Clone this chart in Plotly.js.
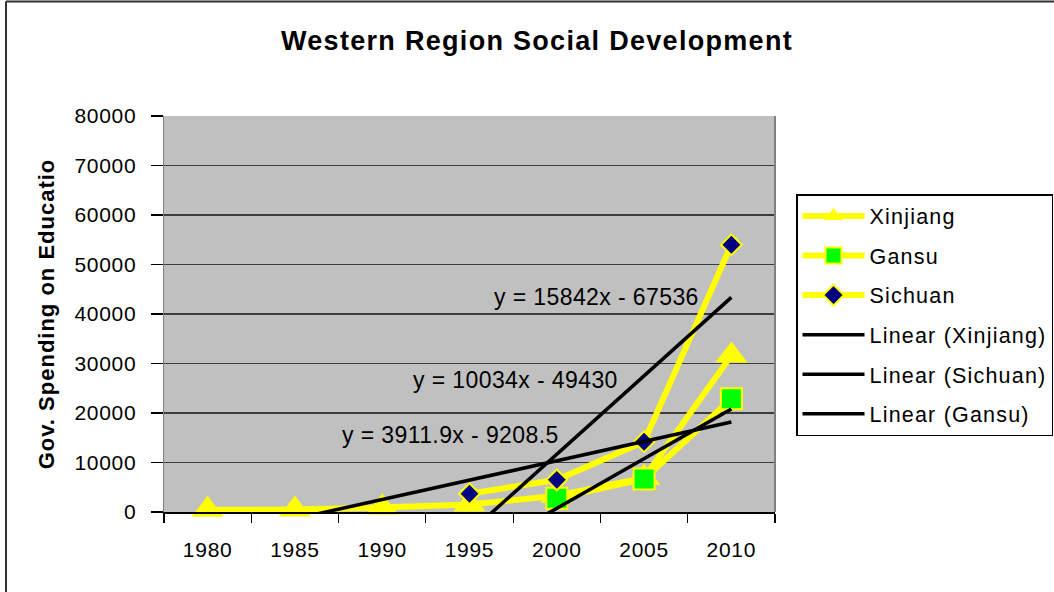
<!DOCTYPE html>
<html>
<head>
<meta charset="utf-8">
<script src="https://cdn.plot.ly/plotly-3.0.1.min.js"></script>
<style>
  html, body { margin: 0; padding: 0; background: #ffffff; }
  #chart { width: 1054px; height: 592px; }
  .gtitle { letter-spacing: 1.3px; }
  .legendtext { letter-spacing: 1.2px; }
  .ytick text, .xtick text { letter-spacing: 0.7px; }
  .ytitle { letter-spacing: 1px; }
  .annotation-text { letter-spacing: 0.4px; }
</style>
</head>
<body>
<div id="chart"></div>
<script>
// ---- data ----
const years = ['1980', '1985', '1990', '1995', '2000', '2005', '2010'];
const xinjiang = [450, 500, 900, 1500, 3300, 6900, 31600];
const gansu    = [null, null, null, null, 2800, 6650, 22870];
const sichuan  = [null, null, null, 3700, 6500, 14200, 54000];

// linear trendline coefficients shown on the chart (x = category index 1..7)
const trendXinjiang = [3911.9, -9208.5];
const trendSichuan  = [15842, -67536];
const trendGansu    = [10034, -49430];

const trendLabels = ['y = 15842x - 67536', 'y = 10034x - 49430', 'y = 3911.9x - 9208.5'];

function trendValues(coef) {
  return years.map((_, i) => coef[0] * (i + 1) + coef[1]);
}

const FONT = 'Liberation Sans, Arial, sans-serif';
const YEL = '#ffff00';

const traces = [
  {
    name: 'Xinjiang', x: years, y: xinjiang, type: 'scatter', mode: 'lines+markers',
    line: {color: YEL, width: 6},
    marker: {symbol: 'triangle-up', size: 28, color: YEL, line: {width: 0}},
    cliponaxis: false, legendgroup: 'a'
  },
  {
    name: 'Gansu', x: years, y: gansu, type: 'scatter', mode: 'lines+markers',
    line: {color: YEL, width: 6},
    marker: {symbol: 'square', size: 21, color: '#00ff00', line: {color: YEL, width: 2}},
    cliponaxis: false, legendgroup: 'b'
  },
  {
    name: 'Sichuan', x: years, y: sichuan, type: 'scatter', mode: 'lines+markers',
    line: {color: YEL, width: 6},
    marker: {symbol: 'diamond', size: 16, color: '#000080', line: {color: YEL, width: 2}},
    cliponaxis: false, legendgroup: 'c'
  },
  {
    name: 'Linear (Xinjiang)', x: years, y: trendValues(trendXinjiang), type: 'scatter', mode: 'lines',
    line: {color: '#000000', width: 3.5}, legendgroup: 'd'
  },
  {
    name: 'Linear (Sichuan)', x: years, y: trendValues(trendSichuan), type: 'scatter', mode: 'lines',
    line: {color: '#000000', width: 3.5}, legendgroup: 'e'
  },
  {
    name: 'Linear (Gansu)', x: years, y: trendValues(trendGansu), type: 'scatter', mode: 'lines',
    line: {color: '#000000', width: 3.5}, legendgroup: 'f'
  }
];

const L = 164, R = 775, T = 116, B = 512, W = 1054, H = 592;
const pw = R - L, ph = B - T;
const px = v => (v - L) / pw;
const py = v => (B - v) / ph;

const layout = {
  width: W, height: H,
  paper_bgcolor: '#ffffff',
  plot_bgcolor: '#c0c0c0',
  margin: {l: L, r: W - R, t: T, b: H - B, pad: 0, autoexpand: false},
  font: {family: FONT, color: '#000000', size: 20},
  title: {
    text: 'Western Region Social Development',
    font: {family: FONT, size: 27, color: '#000000', weight: 'bold'},
    x: 537 / W, xref: 'container', xanchor: 'center',
    y: 1 - 41 / H, yref: 'container', yanchor: 'middle'
  },
  xaxis: {
    type: 'category',
    range: [-0.5, 6.5],
    tickson: 'boundaries',
    ticks: 'outside', ticklen: 9, tickwidth: 1.2, tickcolor: '#000000',
    showline: true, linecolor: '#000000', linewidth: 1.5,
    showgrid: false, zeroline: false,
    tickfont: {family: FONT, size: 21, color: '#000000'},
    ticklabelstandoff: 18,
    fixedrange: true
  },
  yaxis: {
    range: [0, 80000],
    dtick: 10000, tick0: 0,
    tickformat: 'd',
    ticks: 'outside', ticklen: 12, tickwidth: 1.2, tickcolor: '#000000',
    showline: true, linecolor: '#808080', linewidth: 1.5,
    showgrid: true, gridcolor: '#3c3c3c', gridwidth: 1.2,
    zeroline: false,
    tickfont: {family: FONT, size: 21, color: '#000000'},
    ticklabelstandoff: 10,
    title: {
      text: 'Gov. Spending on Educatio',
      font: {family: FONT, size: 22, color: '#000000', weight: 'bold'},
      standoff: 13
    },
    fixedrange: true
  },
  legend: {
    x: px(796), y: py(194), xanchor: 'left', yanchor: 'top',
    bgcolor: '#ffffff', bordercolor: '#000000', borderwidth: 1.5,
    font: {family: FONT, size: 21.5, color: '#000000'},
    tracegroupgap: 8.6,
    traceorder: 'grouped',
    itemwidth: 62
  },
  annotations: [
    {text: trendLabels[0], x: 4.45, y: 43400, xref: 'x', yref: 'y', showarrow: false,
     font: {family: FONT, size: 23, color: '#000000'}},
    {text: trendLabels[1], x: 3.53, y: 26700, xref: 'x', yref: 'y', showarrow: false,
     font: {family: FONT, size: 23, color: '#000000'}},
    {text: trendLabels[2], x: 2.78, y: 15560, xref: 'x', yref: 'y', showarrow: false,
     font: {family: FONT, size: 23, color: '#000000'}}
  ],
  shapes: [
    // right edge of plot area
    {type: 'line', xref: 'paper', yref: 'paper', x0: 1, x1: 1, y0: 0, y1: 1,
     line: {color: '#808080', width: 2}},
    // outer chart border (left and top edges visible)
    {type: 'line', xref: 'paper', yref: 'paper', x0: px(6), x1: px(6), y0: py(1.5), y1: py(600),
     line: {color: '#303030', width: 2}},
    {type: 'line', xref: 'paper', yref: 'paper', x0: px(6), x1: px(1100), y0: py(1.5), y1: py(1.5),
     line: {color: '#303030', width: 2}}
  ],
  showlegend: true
};

Plotly.newPlot('chart', traces, layout, {displayModeBar: false, staticPlot: true});
</script>
</body>
</html>
